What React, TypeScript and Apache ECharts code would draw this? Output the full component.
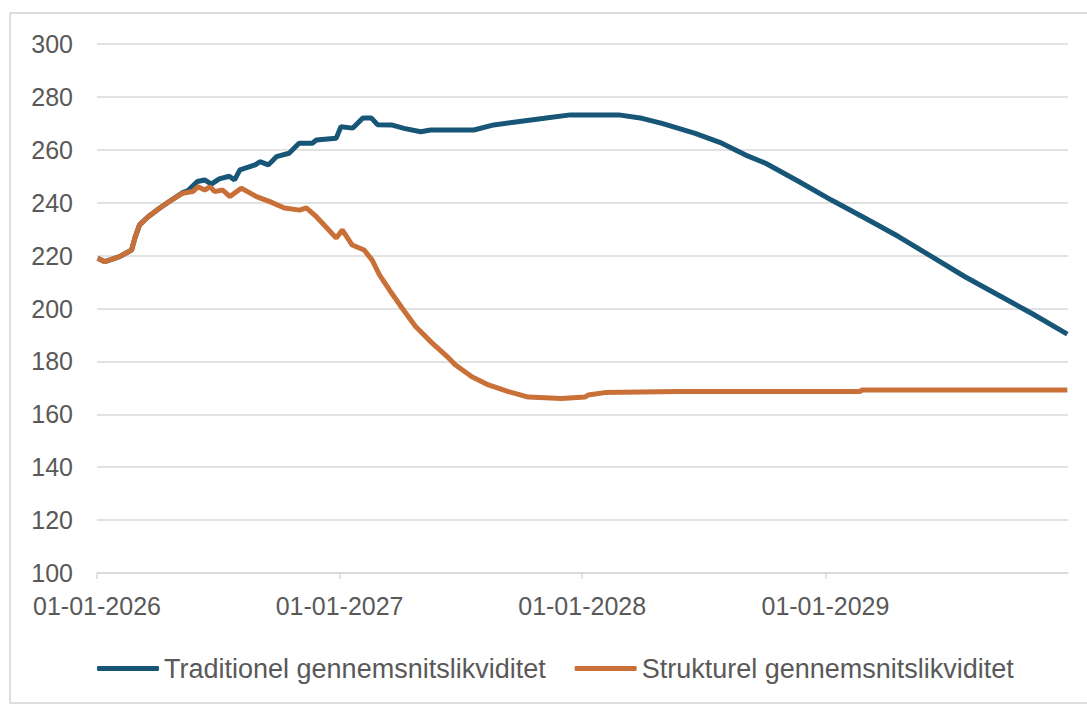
import React, { useEffect, useRef } from "react";
import * as echarts from "echarts";

const yTicks = [100, 120, 140, 160, 180, 200, 220, 240, 260, 280, 300];
const seriesNames = ["Traditionel gennemsnitslikviditet", "Strukturel gennemsnitslikviditet"];

const tradDates = [
  "2026-01-02", "2026-01-13", "2026-02-04", "2026-02-22", "2026-02-27", "2026-03-06", "2026-03-19",
  "2026-04-05", "2026-04-23", "2026-05-10", "2026-05-18", "2026-06-01", "2026-06-12", "2026-06-22",
  "2026-07-04", "2026-07-19", "2026-07-27", "2026-08-04", "2026-08-27", "2026-09-03", "2026-09-16",
  "2026-09-28", "2026-10-17", "2026-11-01", "2026-11-21", "2026-11-27", "2026-12-27", "2027-01-03",
  "2027-01-21", "2027-02-05", "2027-02-18", "2027-02-27", "2027-03-20", "2027-04-08", "2027-05-03",
  "2027-05-18", "2027-07-22", "2027-08-21", "2027-09-26", "2027-11-05", "2027-12-14", "2028-02-25",
  "2028-03-31", "2028-04-30", "2028-06-19", "2028-07-29", "2028-09-03", "2028-10-03", "2028-11-22",
  "2029-01-10", "2029-03-02", "2029-04-21", "2029-06-10", "2029-07-30", "2029-09-18", "2029-11-07",
  "2029-12-31",
];
const tradValues = [
  219, 217.7, 219.6, 222.1, 226.6, 231.6, 234.7,
  237.9, 241, 243.8, 244.6, 248, 248.6, 247,
  249, 250, 248.6, 252.4, 254.3, 255.5, 254.3,
  257.4, 258.7, 262.5, 262.5, 263.7, 264.4, 268.7,
  268.2, 272, 272, 269.5, 269.4, 268.1, 266.8,
  267.5, 267.5, 269.4, 270.6, 271.9, 273.2, 273.2,
  271.9, 270, 266.2, 262.5, 258, 254.9, 248,
  241, 234.1, 227.2, 219.6, 212, 205.1, 198.2,
  190.3,
];

const strukDates = [
  "2026-01-02", "2026-01-13", "2026-02-04", "2026-02-22", "2026-02-27", "2026-03-06", "2026-03-19",
  "2026-04-05", "2026-04-23", "2026-05-10", "2026-05-25", "2026-06-02", "2026-06-12", "2026-06-20",
  "2026-06-27", "2026-07-09", "2026-07-20", "2026-08-06", "2026-08-29", "2026-09-18", "2026-10-10",
  "2026-11-02", "2026-11-12", "2026-11-27", "2026-12-06", "2026-12-27", "2027-01-05", "2027-01-20",
  "2027-02-07", "2027-02-19", "2027-03-02", "2027-03-17", "2027-04-05", "2027-04-25", "2027-05-20",
  "2027-06-14", "2027-06-24", "2027-07-19", "2027-08-13", "2027-09-12", "2027-10-12", "2027-12-01",
  "2028-01-05", "2028-01-10", "2028-02-04", "2028-05-25", "2029-02-23", "2029-02-24", "2029-12-31",
];
const strukValues = [
  219, 217.7, 219.6, 222.1, 226.6, 231.6, 234.7,
  237.9, 241, 243.6, 244.2, 246, 244.8, 246,
  244.2, 244.8, 242.3, 245.5, 242.3, 240.4, 238,
  237.2, 238, 234.7, 232.3, 226.6, 229.7, 224,
  222.1, 218.3, 212.7, 207, 200.2, 193.3, 187,
  181.3, 178.7, 174.2, 171.1, 168.6, 166.5, 166,
  166.5, 167.3, 168.2, 168.6, 168.6, 169.2, 169.2,
];

const xMin = "2026-01-01";
const xMax = "2030-01-01";

const BLUE = "#175677";
const ORANGE = "#c96f38";
const DAY = 86400000;

function ts(d: string) {
  const [y, m, dd] = d.split("-").map(Number);
  return new Date(y, m - 1, dd).getTime();
}

export default function App() {
  const ref = useRef<HTMLDivElement>(null);
  useEffect(() => {
    if (!ref.current) return;
    const chart = echarts.init(ref.current, undefined, { renderer: "svg" });
    const font = "Liberation Sans";
    chart.setOption({
      animation: false,
      backgroundColor: "#ffffff",
      textStyle: { fontFamily: font },
      grid: { left: 97, right: 19, top: 44, bottom: 133 },
      graphic: [
        {
          type: "rect",
          shape: { x: 10, y: 13, width: 1090, height: 690 },
          style: { fill: "none", stroke: "#d4d4d4", lineWidth: 1.5 },
          silent: true,
        },
      ],
      legend: {
        left: 97,
        top: 655,
        padding: 0,
        icon: "roundRect",
        itemWidth: 62,
        itemHeight: 5,
        itemGap: 29,
        data: seriesNames,
        textStyle: { fontSize: 27, color: "#595959", fontFamily: font },
      },
      xAxis: {
        type: "time",
        min: ts(xMin),
        max: ts(xMax),
        minInterval: 365 * DAY,
        maxInterval: 366 * DAY,
        splitLine: { show: false },
        axisLine: { show: true, lineStyle: { color: "#d9d9d9", width: 1.5 } },
        axisTick: { show: true, length: 6, lineStyle: { color: "#d9d9d9", width: 1.5 } },
        axisLabel: {
          formatter: "{dd}-{MM}-{yyyy}",
          color: "#595959",
          fontSize: 25,
          margin: 20,
          showMaxLabel: false,
          fontFamily: font,
        },
      },
      yAxis: {
        type: "value",
        min: yTicks[0],
        max: yTicks[yTicks.length - 1],
        interval: 20,
        axisLine: { show: false },
        axisTick: { show: false },
        splitLine: { lineStyle: { color: "#d9d9d9", width: 1.5 } },
        axisLabel: { color: "#595959", fontSize: 25, margin: 24, fontFamily: font },
      },
      series: [
        {
          name: seriesNames[0],
          type: "line",
          showSymbol: false,
          symbol: "none",
          lineStyle: { color: BLUE, width: 5 },
          itemStyle: { color: BLUE },
          data: tradDates.map((d, i) => [ts(d), tradValues[i]]),
        },
        {
          name: seriesNames[1],
          type: "line",
          showSymbol: false,
          symbol: "none",
          lineStyle: { color: ORANGE, width: 5 },
          itemStyle: { color: ORANGE },
          data: strukDates.map((d, i) => [ts(d), strukValues[i]]),
        },
      ],
    });
    return () => chart.dispose();
  }, []);
  return (
    <div
      ref={ref}
      style={{ position: "absolute", left: 0, top: 0, width: 1087, height: 706, background: "#fff" }}
    />
  );
}
